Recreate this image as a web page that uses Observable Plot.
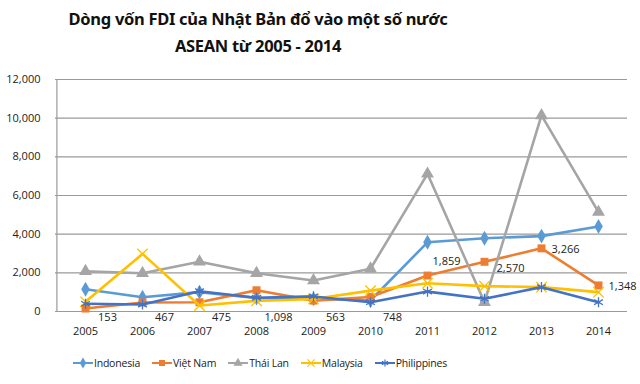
<!DOCTYPE html>
<html><head><meta charset="utf-8">
<script src="https://cdn.jsdelivr.net/npm/d3@7"></script>
<script src="https://cdn.jsdelivr.net/npm/@observablehq/plot@0.6"></script>
<style>
body{margin:0;background:#fff;font-family:"Open Sans",sans-serif;}
#wrap{width:640px;height:384px;position:relative;overflow:hidden;}
#title{width:516px;height:62px;text-align:center;font-family:"Noto Sans",sans-serif;font-weight:bold;font-size:16.5px;line-height:27px;padding-top:5px;box-sizing:border-box;color:#111;letter-spacing:-0.3px;}
#legend{width:520px;display:flex;justify-content:center;gap:12px;font-size:10.5px;color:#222;margin-top:14px;letter-spacing:-0.2px;}
.li{display:flex;align-items:center;gap:1px;}
</style></head>
<body><div id="wrap">
<div id="title">Dòng vốn FDI của Nhật Bản đổ vào một số nước<br>ASEAN từ 2005 - 2014</div>
<div id="chart"></div>
<div id="legend"></div>
</div>
<script>
const years = [2005, 2006, 2007, 2008, 2009, 2010, 2011, 2012, 2013, 2014];
const names = ["Indonesia", "Việt Nam", "Thái Lan", "Malaysia", "Philippines"];
const indonesia = [1150, 740, 1000, 700, 650, 570, 3580, 3790, 3900, 4400];
const vietnam = [153, 467, 475, 1098, 563, 748, 1859, 2570, 3266, 1348];
const thailan = [2080, 1980, 2570, 1980, 1600, 2210, 7120, 480, 10140, 5140];
const malaysia = [500, 2980, 310, 550, 650, 1080, 1460, 1310, 1260, 1000];
const philippines = [400, 360, 1050, 710, 780, 480, 1030, 660, 1260, 480];
const yTicks = [0, 2000, 4000, 6000, 8000, 10000, 12000];
const colors = ["#5B9BD5", "#ED7D31", "#A5A5A5", "#FFC000", "#4472C4"];

const seriesVals = [indonesia, vietnam, thailan, malaysia, philippines];
const data = [];
names.forEach((n, i) => years.forEach((y, j) => data.push({name: n, year: y, value: seriesVals[i][j], idx: j})));
const vn = data.filter(d => d.name === "Việt Nam");
const fmt = d3.format(",");

const marks = [
  Plot.ruleY(yTicks, {stroke: "#9a9a9a", strokeWidth: 1.2}),
  Plot.ruleX([years[0]], {dx: -28.6, stroke: "#9a9a9a", strokeWidth: 1.2}),
  Plot.axisY(yTicks, {tickSize: 0, tickPadding: 15, tickFormat: fmt, fontSize: 11, fill: "#222", label: null}),
  Plot.axisX({tickSize: 0, tickPadding: 16, tickFormat: d => String(d), fontSize: 11, fill: "#222", label: null})
];
const symbolsFill = {"Indonesia": "diamond", "Việt Nam": "square", "Thái Lan": "triangle"};
names.forEach((n, i) => {
  const d = data.filter(e => e.name === n);
  marks.push(Plot.line(d, {x: "year", y: "value", stroke: colors[i], strokeWidth: 2.6}));
  if (symbolsFill[n]) {
    marks.push(Plot.dot(d, {x: "year", y: "value", symbol: symbolsFill[n], fill: colors[i], r: n === "Thái Lan" ? 4.8 : 4.5}));
  } else {
    marks.push(Plot.dot(d, {x: "year", y: "value", symbol: n === "Malaysia" ? "times" : "asterisk", stroke: colors[i], strokeWidth: 1.3, r: 4.8}));
  }
});
// data labels for Việt Nam
marks.push(Plot.text(vn.filter(d => d.idx < 6), {x: "year", y: () => 0, text: d => fmt(d.value), dx: 22, dy: 6, fontSize: 11, fill: "#222"}));
marks.push(Plot.text(vn.filter(d => d.idx === 6), {x: "year", y: "value", text: d => fmt(d.value), dx: 19, dy: -14, fontSize: 11, fill: "#222"}));
marks.push(Plot.text(vn.filter(d => d.idx === 7), {x: "year", y: "value", text: d => fmt(d.value), dx: 26, dy: 7, fontSize: 11, fill: "#222"}));
marks.push(Plot.text(vn.filter(d => d.idx >= 8), {x: "year", y: "value", text: d => fmt(d.value), dx: 10, dy: 1, textAnchor: "start", fontSize: 11, fill: "#222"}));

const chart = Plot.plot({
  width: 640, height: 280,
  marginTop: 17, marginBottom: 31, marginLeft: 55, marginRight: 13,
  style: {fontFamily: "'Open Sans', sans-serif", fontSize: "11px", background: "white", overflow: "visible"},
  x: {type: "point", domain: years, padding: 0.5, axis: null, label: null},
  y: {domain: [0, 12000], axis: null, label: null},
  marks
});
document.getElementById("chart").appendChild(chart);

const legend = document.getElementById("legend");
const legSym = ["diamond", "square", "triangle", "times", "asterisk"];
names.forEach((n, i) => {
  const it = document.createElement("div"); it.className = "li";
  const svg = d3.create("svg").attr("width", 20).attr("height", 12);
  svg.append("line").attr("x1", 0).attr("x2", 20).attr("y1", 6).attr("y2", 6).attr("stroke", colors[i]).attr("stroke-width", 2);
  const st = {diamond: d3.symbolDiamond, square: d3.symbolSquare, triangle: d3.symbolTriangle, times: d3.symbolTimes, asterisk: d3.symbolAsterisk}[legSym[i]];
  const p = svg.append("path").attr("transform", "translate(10,6)").attr("d", d3.symbol(st, 36)());
  if (i < 3) p.attr("fill", colors[i]); else p.attr("fill", "none").attr("stroke", colors[i]).attr("stroke-width", 1.2);
  it.appendChild(svg.node());
  const t = document.createElement("span"); t.textContent = n; it.appendChild(t);
  legend.appendChild(it);
});
</script>
</body></html>
